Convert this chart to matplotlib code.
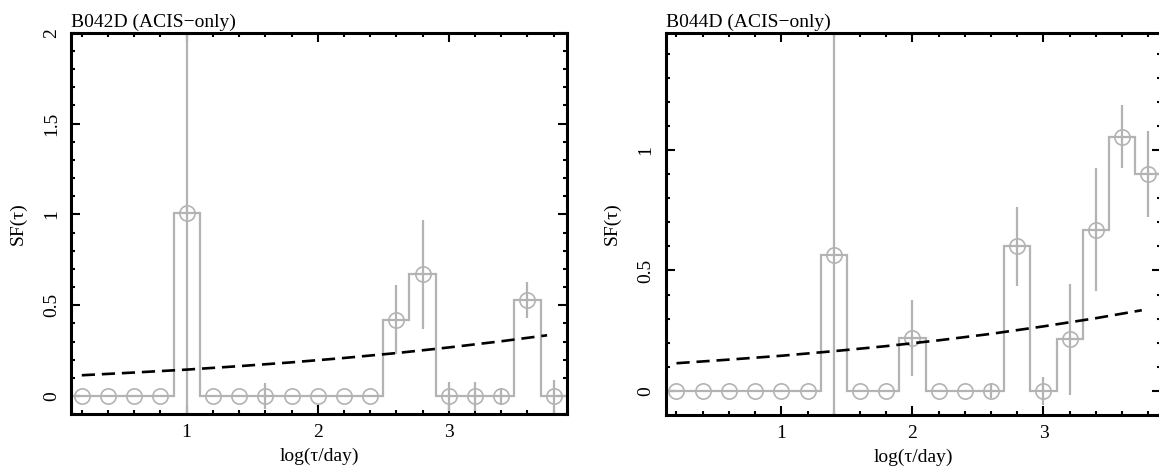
import numpy as np
import matplotlib
matplotlib.use("Agg")
import matplotlib.pyplot as plt
from matplotlib.ticker import MultipleLocator

plt.rcParams['font.family'] = ['Liberation Serif', 'DejaVu Serif']
plt.rcParams['font.size'] = 14

# bin centres of log(tau/day), shared by both sources
log_tau = [0.2, 0.4, 0.6, 0.8, 1.0, 1.2, 1.4, 1.6, 1.8, 2.0,
           2.2, 2.4, 2.6, 2.8, 3.0, 3.2, 3.4, 3.6, 3.8]
bin_half = 0.1

# B042D
sf_b042d = [0, 0, 0, 0, 1.01, 0, 0, 0, 0, 0,
            0, 0, 0.42, 0.67, 0, 0, 0, 0.53, 0]
err_b042d = [0, 0, 0, 0, 1.5, 0, 0, 0.07, 0, 0,
             0, 0, 0.19, 0.30, 0.08, 0.08, 0.045, 0.10, 0.09]

# B044D
sf_b044d = [0, 0, 0, 0, 0, 0, 0.565, 0, 0, 0.22,
            0, 0, 0, 0.60, 0, 0.215, 0.67, 1.055, 0.90]
err_b044d = [0, 0, 0, 0, 0, 0, 1.2, 0, 0, 0.157,
             0, 0, 0.03, 0.165, 0.057, 0.23, 0.255, 0.13, 0.18]

# model structure function (dashed)
model_x = [0.2, 0.6, 1.0, 1.4, 1.8, 2.2, 2.6, 3.0, 3.4, 3.75]
model_sf = [0.115, 0.130, 0.146, 0.165, 0.186, 0.210, 0.237, 0.268, 0.302, 0.335]

GREY = '#b3b3b3'


def draw_panel(ax, title, sf, err, ylim, ymajor):
    x = np.array(log_tau)
    sf = np.array(sf)
    err = np.array(err)
    edges = np.append(x - bin_half, x[-1] + bin_half)
    ax.stairs(sf, edges, baseline=None, color=GREY, lw=1.6, zorder=2)
    m = err > 0
    ax.errorbar(x[m], sf[m], yerr=err[m], fmt='none', ecolor=GREY,
                elinewidth=1.6, capsize=0, zorder=2)
    ax.plot(x, sf, 'o', ms=11, mfc='none', mec=GREY, mew=1.2, zorder=3)
    ax.plot(model_x, model_sf, color='black', lw=1.9, dashes=(5, 2.6), zorder=4)

    ax.set_xlim(0.118, 3.9)
    ax.set_ylim(*ylim)
    ax.xaxis.set_major_locator(MultipleLocator(1))
    ax.xaxis.set_minor_locator(MultipleLocator(0.2))
    ax.yaxis.set_major_locator(MultipleLocator(ymajor))
    ax.yaxis.set_minor_locator(MultipleLocator(0.1))
    ax.tick_params(which='both', direction='in', top=True, right=True,
                   width=1.5, color='black')
    ax.tick_params(which='major', length=6.5)
    ax.tick_params(which='minor', length=3.2)
    ax.tick_params(axis='x', pad=7)
    ax.tick_params(axis='y', pad=8, labelrotation=90)
    for lab in ax.get_yticklabels():
        lab.set_va('center')
    for sp in ax.spines.values():
        sp.set_linewidth(2.2)
    ax.xaxis.set_major_formatter(plt.FuncFormatter(lambda v, p: f'{v:g}'))
    ax.yaxis.set_major_formatter(plt.FuncFormatter(lambda v, p: f'{v:g}'))
    ax.set_xlabel('log(τ/day)', labelpad=5)
    ax.set_ylabel('SF(τ)', labelpad=12)
    ax.set_title(title, loc='left', pad=4, fontsize=14)


fig = plt.figure(figsize=(11.59, 4.68), dpi=100)
ax1 = fig.add_axes([0.0613, 0.1147, 0.4277, 0.8154])
ax2 = fig.add_axes([0.5744, 0.1132, 0.4277, 0.8169])

draw_panel(ax1, 'B042D (ACIS\u2212only)', sf_b042d, err_b042d, (-0.1, 2.0), 0.5)
draw_panel(ax2, 'B044D (ACIS\u2212only)', sf_b044d, err_b044d, (-0.1, 1.487), 0.5)

fig.savefig('out.png', dpi=100)
